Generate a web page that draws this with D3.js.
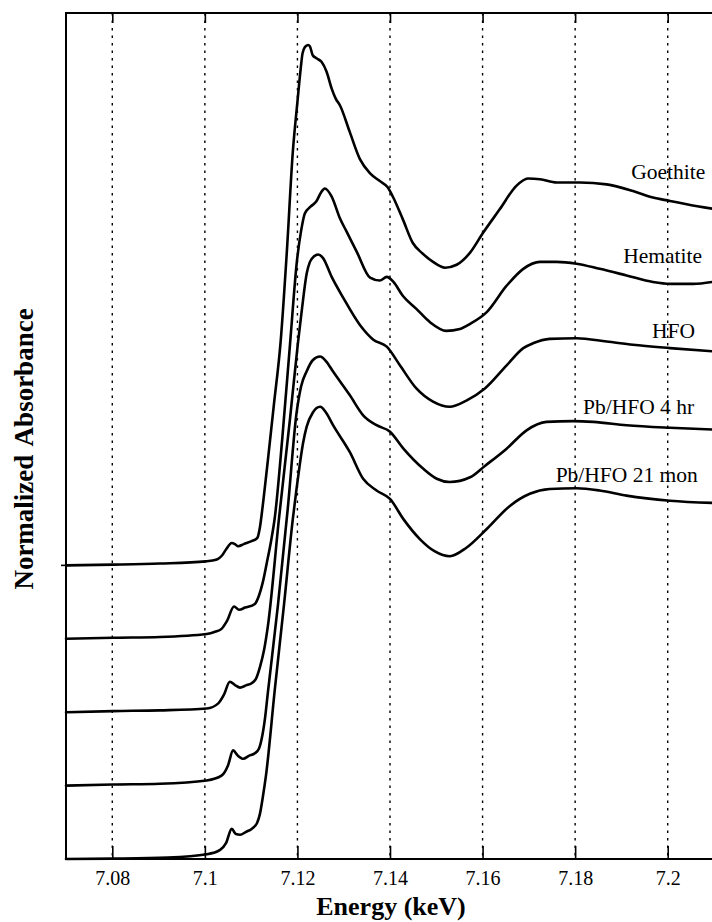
<!DOCTYPE html>
<html>
<head>
<meta charset="utf-8">
<script src="https://cdn.jsdelivr.net/npm/d3@7"></script>
<style>
  html, body { margin: 0; padding: 0; background: #fff; }
  svg { display: block; font-family: "Liberation Serif", "Times New Roman", serif; }
</style>
</head>
<body>
<div id="wrapper"></div>
<script>
// data: [energy keV, normalized absorbance]
const energyTicks = [7.08, 7.1, 7.12, 7.14, 7.16, 7.18, 7.2]
const energyTickLabels = ["7.08", "7.1", "7.12", "7.14", "7.16", "7.18", "7.2"]
const sampleNames = ["Goethite", "Hematite", "HFO", "Pb/HFO 4 hr", "Pb/HFO 21 mon"]
const stackOffsets = [0.8, 0.6, 0.4, 0.2, 0]

const goethite = [
  [7.0700,0],[7.0802,0.002],[7.0903,0.005],[7.1002,0.011],[7.1026,0.016],[7.1037,0.027],[7.1046,0.044],
  [7.1058,0.061],[7.1065,0.058],[7.1072,0.052],[7.1084,0.058],[7.1101,0.066],[7.1113,0.074],[7.1119,0.104],
  [7.1125,0.162],[7.1136,0.285],[7.1149,0.436],[7.1164,0.614],[7.1177,0.852],[7.1190,1.126],[7.1200,1.263],
  [7.1207,1.353],[7.1211,1.395],[7.1216,1.412],[7.1223,1.418],[7.1227,1.414],[7.1233,1.390],[7.1242,1.381],
  [7.1252,1.372],[7.1263,1.345],[7.1274,1.299],[7.1283,1.271],[7.1292,1.253],[7.1313,1.181],[7.1335,1.107],
  [7.1357,1.068],[7.1378,1.047],[7.1395,1.030],[7.1406,1.005],[7.1428,0.942],[7.1449,0.879],[7.1471,0.849],
  [7.1493,0.827],[7.1519,0.811],[7.1544,0.819],[7.1573,0.852],[7.1601,0.906],[7.1637,0.970],[7.1673,1.034],
  [7.1698,1.054],[7.1724,1.052],[7.1760,1.043],[7.1810,1.043],[7.1868,1.038],[7.1925,1.020],[7.1968,1.002],
  [7.2005,0.993],[7.2041,0.984],[7.2100,0.971]
]
const hematite = [
  [7.0700,0],[7.0802,0.003],[7.0903,0.005],[7.1004,0.013],[7.1022,0.019],[7.1036,0.027],[7.1048,0.049],
  [7.1063,0.088],[7.1074,0.079],[7.1087,0.085],[7.1108,0.095],[7.1117,0.118],[7.1125,0.153],[7.1134,0.208],
  [7.1143,0.266],[7.1151,0.329],[7.1167,0.542],[7.1184,0.803],[7.1199,1.030],[7.1208,1.112],[7.1216,1.159],
  [7.1229,1.178],[7.1241,1.192],[7.1251,1.216],[7.1259,1.227],[7.1274,1.205],[7.1292,1.145],[7.1306,1.110],
  [7.1328,1.055],[7.1357,0.984],[7.1378,0.976],[7.1393,0.986],[7.1407,0.973],[7.1428,0.934],[7.1457,0.899],
  [7.1486,0.863],[7.1522,0.839],[7.1551,0.844],[7.1573,0.858],[7.1609,0.890],[7.1652,0.962],[7.1688,1.008],
  [7.1724,1.027],[7.1760,1.027],[7.1803,1.022],[7.1853,1.008],[7.1911,0.990],[7.1968,0.972],[7.2005,0.967],
  [7.2055,0.967],[7.2100,0.973]
]
const hfo = [
  [7.0700,0],[7.0802,0.003],[7.0903,0.005],[7.1004,0.010],[7.1029,0.024],[7.1041,0.047],[7.1054,0.083],
  [7.1065,0.074],[7.1076,0.067],[7.1089,0.073],[7.1101,0.079],[7.1110,0.090],[7.1119,0.123],[7.1128,0.170],
  [7.1136,0.233],[7.1160,0.526],[7.1184,0.800],[7.1201,1.005],[7.1210,1.101],[7.1220,1.195],[7.1227,1.227],
  [7.1236,1.242],[7.1245,1.247],[7.1255,1.238],[7.1274,1.186],[7.1299,1.129],[7.1335,1.055],[7.1364,1.015],
  [7.1393,0.996],[7.1421,0.946],[7.1457,0.882],[7.1493,0.846],[7.1529,0.832],[7.1565,0.849],[7.1605,0.882],
  [7.1652,0.945],[7.1688,0.992],[7.1709,1.005],[7.1745,1.017],[7.1803,1.019],[7.1868,1.010],[7.1925,1.001],
  [7.2005,0.992],[7.2100,0.983]
]
const pbHfo4hr = [
  [7.0700,0],[7.0802,0.003],[7.0903,0.005],[7.1004,0.014],[7.1036,0.027],[7.1050,0.055],[7.1061,0.096],
  [7.1071,0.082],[7.1083,0.073],[7.1095,0.081],[7.1108,0.088],[7.1117,0.101],[7.1123,0.129],[7.1130,0.184],
  [7.1136,0.252],[7.1158,0.493],[7.1179,0.753],[7.1198,1.014],[7.1208,1.088],[7.1220,1.129],[7.1233,1.159],
  [7.1249,1.169],[7.1262,1.156],[7.1277,1.128],[7.1313,1.064],[7.1342,1.009],[7.1371,0.982],[7.1400,0.964],
  [7.1429,0.918],[7.1472,0.863],[7.1501,0.836],[7.1529,0.827],[7.1573,0.840],[7.1605,0.871],[7.1652,0.918],
  [7.1695,0.968],[7.1738,0.991],[7.1796,0.993],[7.1839,0.991],[7.1911,0.982],[7.2005,0.975],[7.2100,0.970]
]
const pbHfo21mon = [
  [7.0700,0],[7.0802,0.001],[7.0920,0.004],[7.1004,0.013],[7.1033,0.025],[7.1046,0.044],[7.1058,0.082],
  [7.1067,0.068],[7.1076,0.066],[7.1089,0.074],[7.1101,0.082],[7.1113,0.099],[7.1119,0.123],[7.1125,0.167],
  [7.1132,0.227],[7.1151,0.460],[7.1171,0.693],[7.1190,0.926],[7.1198,1.008],[7.1205,1.074],[7.1212,1.132],
  [7.1220,1.178],[7.1233,1.216],[7.1249,1.232],[7.1262,1.216],[7.1277,1.182],[7.1313,1.109],[7.1342,1.036],
  [7.1371,1.004],[7.1400,0.981],[7.1429,0.926],[7.1465,0.871],[7.1497,0.838],[7.1529,0.825],[7.1565,0.848],
  [7.1609,0.899],[7.1659,0.962],[7.1702,0.995],[7.1745,1.008],[7.1803,1.010],[7.1853,1.004],[7.1911,0.990],
  [7.2005,0.976],[7.2100,0.970]
]
const spectra = [goethite, hematite, hfo, pbHfo4hr, pbHfo21mon]

// where each name sits: [energy at right end of text, absorbance level of baseline]
const labelAnchors = [[7.2081,1.853],[7.2074,1.624],[7.2059,1.420],[7.2057,1.213],[7.2065,1.027]]

async function drawChart() {

  // 1. Access data
  const xAccessor = d => d[0]
  const yAccessor = d => d[1]

  // 2. Create chart dimensions
  let dimensions = {
    width: 712,
    height: 922,
    margin: {
      top: 13,
      right: -2,
      bottom: 63,
      left: 66,
    },
  }
  dimensions.boundedWidth = dimensions.width
    - dimensions.margin.left
    - dimensions.margin.right
  dimensions.boundedHeight = dimensions.height
    - dimensions.margin.top
    - dimensions.margin.bottom

  // 3. Draw canvas
  const wrapper = d3.select("#wrapper")
    .append("svg")
      .attr("width", dimensions.width)
      .attr("height", dimensions.height)

  const bounds = wrapper.append("g")
      .attr("transform", `translate(${dimensions.margin.left},${dimensions.margin.top})`)

  // 4. Create scales
  const xScale = d3.scaleLinear()
    .domain([7.07, 7.21])
    .range([0, dimensions.boundedWidth])

  const yScale = d3.scaleLinear()
    .domain([0, 2.305])
    .range([dimensions.boundedHeight, 0])

  // dotted grid
  bounds.append("g")
    .selectAll("line")
    .data(energyTicks)
    .join("line")
      .attr("x1", d => xScale(d))
      .attr("x2", d => xScale(d))
      .attr("y1", 0)
      .attr("y2", dimensions.boundedHeight)
      .attr("stroke", "#000")
      .attr("stroke-width", 1.4)
      .attr("stroke-dasharray", "2.5,5")

  // 5. Draw data
  const lineGenerator = (offset) => d3.line()
    .x(d => xScale(xAccessor(d)))
    .y(d => yScale(yAccessor(d) + offset))
    .curve(d3.curveMonotoneX)

  bounds.append("g")
    .selectAll("path")
    .data(spectra)
    .join("path")
      .attr("d", (d, i) => lineGenerator(stackOffsets[i])(d))
      .attr("fill", "none")
      .attr("stroke", "#000")
      .attr("stroke-width", 2.6)
      .attr("stroke-linejoin", "round")
      .attr("stroke-linecap", "round")

  bounds.append("g")
    .selectAll("text")
    .data(sampleNames)
    .join("text")
      .attr("x", (d, i) => xScale(labelAnchors[i][0]))
      .attr("y", (d, i) => yScale(labelAnchors[i][1]))
      .attr("text-anchor", "end")
      .style("font-size", "21.5px")
      .text(d => d)

  // 6. Draw peripherals
  const topAxis = bounds.append("g")
    .call(d3.axisTop(xScale).tickValues(energyTicks).tickSize(-10).tickFormat(""))
  topAxis.select(".domain").remove()
  topAxis.selectAll("line").attr("stroke-width", 1.6)

  const bottomAxis = bounds.append("g")
    .attr("transform", `translate(0,${dimensions.boundedHeight})`)
    .call(d3.axisBottom(xScale)
      .tickValues(energyTicks)
      .tickSize(-13)
      .tickPadding(12)
      .tickFormat((d, i) => energyTickLabels[i]))
    .attr("font-family", null)
    .attr("font-size", null)
  bottomAxis.select(".domain").remove()
  bottomAxis.selectAll("line").attr("stroke-width", 1.6)
  bottomAxis.selectAll("text")
    .attr("fill", "#000")
    .style("font-size", "20px")

  bounds.append("line")
    .attr("x1", -5)
    .attr("x2", 5)
    .attr("y1", yScale(stackOffsets[0]))
    .attr("y2", yScale(stackOffsets[0]))
    .attr("stroke", "#000")
    .attr("stroke-width", 1.6)

  bounds.append("rect")
    .attr("width", dimensions.boundedWidth)
    .attr("height", dimensions.boundedHeight)
    .attr("fill", "none")
    .attr("stroke", "#000")
    .attr("stroke-width", 2)

  wrapper.append("text")
    .attr("x", 391)
    .attr("y", 915)
    .attr("text-anchor", "middle")
    .style("font-size", "26px")
    .style("font-weight", "bold")
    .text("Energy (keV)")

  wrapper.append("text")
    .attr("transform", "translate(33,449) rotate(-90)")
    .attr("text-anchor", "middle")
    .style("font-size", "27px")
    .style("font-weight", "bold")
    .style("word-spacing", "3px")
    .text("Normalized Absorbance")
}

drawChart()
</script>
</body>
</html>
